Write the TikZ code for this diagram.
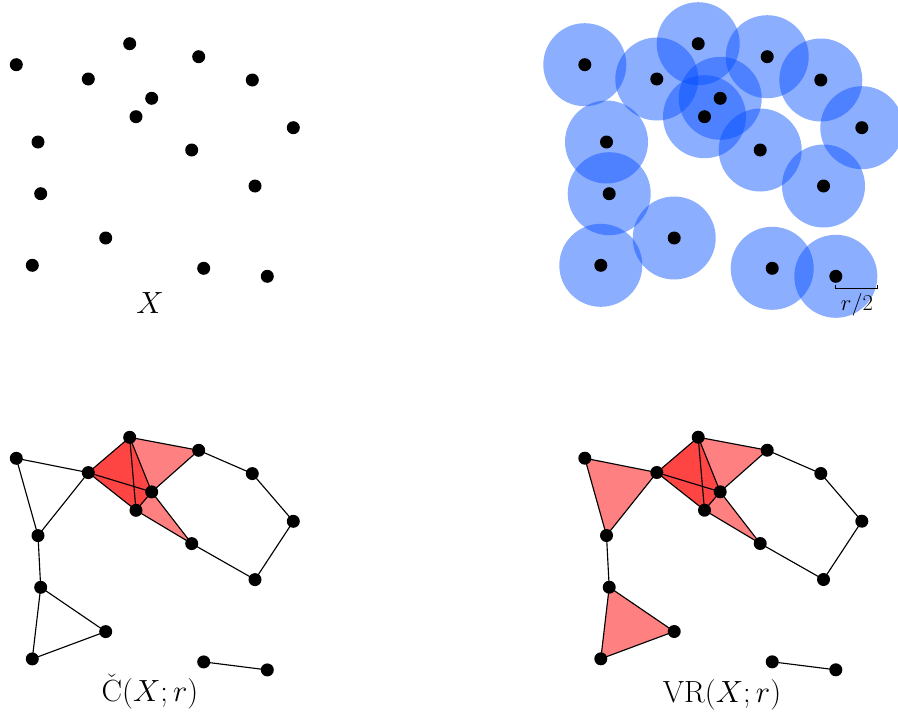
\documentclass[tikz,border=0pt]{standalone}
\usepackage{fix-cm}
\usetikzlibrary{calc}
\definecolor{lightred}{RGB}{255,128,128}
\definecolor{darkred}{RGB}{255,68,68}
\definecolor{ballblue}{RGB}{0,75,255}
\begin{document}
\begin{tikzpicture}[x=0.75pt,y=-0.75pt,
  dotstyle/.style={fill=black},
  edgestyle/.style={draw=black,line width=0.85pt,line join=round},
  ballstyle/.style={fill=ballblue,fill opacity=0.45},
  lightface/.style={fill=lightred},
  darkface/.style={fill=darkred},
  lbl/.style={font=\fontsize{23}{26}\selectfont,inner sep=0pt},
  smalllbl/.style={font=\fontsize{17}{20}\selectfont,inner sep=0pt}]
\useasboundingbox (0,0) rectangle (898,717);
\foreach \n/\x/\y in {A/16.3/64.7, B/129.7/43.7, C/198.7/56.7, D/88.3/79, E/252.3/80,
  F/151.7/98.3, G/136/116.7, H/293.3/127.7, I/38/142, J/191.7/150, K/255/186,
  L/40.7/193.7, M/105.7/238, N/32.3/265.3, O/203.7/268.3, P/267.3/276.3} {
  \coordinate (tl\n) at (\x,\y);
  \coordinate (tr\n) at (\x+568.5,\y);
  \coordinate (bl\n) at (\x,\y+393.6);
  \coordinate (br\n) at (\x+568.5,\y+393.5);
}
% top-right balls
\foreach \n in {A,B,C,D,E,F,G,H,I,J,K,L,M,N,O,P} {
  \fill[ballstyle] (tr\n) circle (41.5);
}
% faces
\foreach \p in {bl,br} {
  \fill[darkface] (\p D) -- (\p B) -- (\p F) -- (\p G) -- cycle;
  \fill[lightface] (\p B) -- (\p C) -- (\p F) -- cycle;
  \fill[lightface] (\p G) -- (\p F) -- (\p J) -- cycle;
}
\fill[lightface] (brA) -- (brD) -- (brI) -- cycle;
\fill[lightface] (brL) -- (brM) -- (brN) -- cycle;
% edges
\foreach \p in {bl,br} {
  \foreach \u/\v in {A/D, A/I, D/I, D/B, D/F, D/G, B/F, B/G, F/G, B/C, C/F, C/E,
    E/H, H/K, K/J, J/G, J/F, I/L, L/M, L/N, M/N, O/P} {
    \draw[edgestyle] (\p\u) -- (\p\v);
  }
}
% dots
\foreach \p in {tl,tr,bl,br} {
  \foreach \n in {A,B,C,D,E,F,G,H,I,J,K,L,M,N,O,P} {
    \fill[dotstyle] (\p\n) circle (6.5);
  }
}
% scale bar
\coordinate (bar0) at ($(trP)+(0,12.5)$);
\coordinate (bar1) at ($(bar0)+(42,0)$);
\draw[line width=0.85pt] ($(bar0)+(0,-3.5)$) -- (bar0) -- (bar1) -- ($(bar1)+(0,-3.5)$);
\node[smalllbl] (rlabel) at (857,305) {$r/2$};
% labels
\node[lbl] (xlabel) at (150,303) {$X$};
\node[lbl] (clabel) at (150,692) {$\check{\mathrm{C}}(X;r)$};
\node[lbl] (vlabel) at (722,695) {$\mathrm{VR}(X;r)$};
\end{tikzpicture}
\end{document}
